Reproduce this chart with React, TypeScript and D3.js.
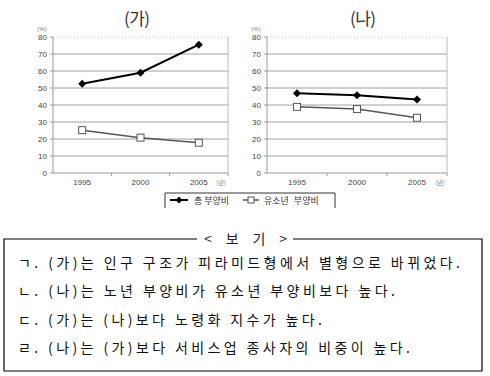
import React from "react";
import * as d3 from "d3";

const years = ["1995", "2000", "2005"];
const totalA = [52.5, 59, 75.5];
const youthA = [25.2, 20.8, 17.8];
const totalB = [46.9, 45.7, 43.2];
const youthB = [38.9, 37.6, 32.5];
const yTicks = [0, 10, 20, 30, 40, 50, 60, 70, 80];
const seriesNames = ["총 부양비", "유소년 부양비"];
const titles = ["(가)", "(나)"];
const boxTitle = "< 보 기 >";
const statements = [
  "ㄱ. (가)는 인구 구조가 피라미드형에서 별형으로 바뀌었다.",
  "ㄴ. (나)는 노년 부양비가 유소년 부양비보다 높다.",
  "ㄷ. (가)는 (나)보다 노령화 지수가 높다.",
  "ㄹ. (나)는 (가)보다 서비스업 종사자의 비중이 높다.",
];
const statementWidths = [442, 377, 304, 392];

const KFONT = "'Noto Sans CJK KR', 'Noto Sans', sans-serif";
const AFONT = "'Liberation Sans', Arial, sans-serif";

function Diamond({ x, y, s = 4 }: { x: number; y: number; s?: number }) {
  return <path d={`M${x},${y - s}L${x + s},${y}L${x},${y + s}L${x - s},${y}Z`} fill="#000" />;
}
function Square({ x, y, s = 3.5 }: { x: number; y: number; s?: number }) {
  return <rect x={x - s} y={y - s} width={2 * s} height={2 * s} fill="#fff" stroke="#555" strokeWidth={1} />;
}

function Panel({ x0, x1, title, titleX, total, youth }: any) {
  const y = d3.scaleLinear().domain([0, 80]).range([173, 37]);
  const x = d3.scaleBand().domain(years).range([x0, x1]).padding(0);
  const cx = (d: string) => (x(d) as number) + x.bandwidth() / 2;
  const line = d3.line<number>().x((_, i) => cx(years[i])).y((v) => y(v));
  return (
    <g>
      <text x={titleX} y={17} textAnchor="middle" dominantBaseline="central" fontFamily={KFONT} fontSize={17} fill="#333" textLength={26} lengthAdjust="spacing">
        {title}
      </text>
      <text x={x0 - 11} y={29} textAnchor="middle" dominantBaseline="central" fontFamily={AFONT} fontSize={6} fill="#777">
        (%)
      </text>
      {yTicks.map((t) => (
        <g key={t}>
          {t > 0 && (
            <line x1={x0} x2={x1} y1={y(t)} y2={y(t)} stroke={t === 80 ? "#ccc" : "#a0a0a0"} strokeWidth={1} strokeDasharray={t === 80 ? "1,2" : undefined} />
          )}
          <line x1={x0 - 3} x2={x0} y1={y(t)} y2={y(t)} stroke="#999" />
          <text x={x0 - 6} y={y(t)} textAnchor="end" dominantBaseline="central" fontFamily={AFONT} fontSize={8} fill="#444">
            {t}
          </text>
        </g>
      ))}
      <line x1={x0} x2={x0} y1={y(80)} y2={y(0)} stroke="#999" />
      <line x1={x1} x2={x1} y1={y(80)} y2={y(0)} stroke="#bbb" />
      <line x1={x0} x2={x1} y1={y(0)} y2={y(0)} stroke="#999" />
      {years.map((d) => (
        <line key={"t" + d} x1={(x(d) as number) + x.bandwidth()} x2={(x(d) as number) + x.bandwidth()} y1={y(0)} y2={y(0) + 3} stroke="#999" />
      ))}
      {years.map((d) => (
        <text key={d} x={cx(d)} y={182} textAnchor="middle" dominantBaseline="central" fontFamily={AFONT} fontSize={8} fill="#444">
          {d}
        </text>
      ))}
      <text x={x1 - 7} y={182} textAnchor="middle" dominantBaseline="central" fontFamily={KFONT} fontSize={6} fill="#777">
        (년)
      </text>
      <path d={line(youth) as string} fill="none" stroke="#555" strokeWidth={1.5} />
      {youth.map((v: number, i: number) => (
        <Square key={"s" + i} x={cx(years[i])} y={y(v)} />
      ))}
      <path d={line(total) as string} fill="none" stroke="#000" strokeWidth={2} />
      {total.map((v: number, i: number) => (
        <Diamond key={"d" + i} x={cx(years[i])} y={y(v)} />
      ))}
    </g>
  );
}

export default function App() {
  return (
    <svg width={490} height={376} style={{ position: "absolute", left: 0, top: 0, background: "#fff" }}>
      <rect width={490} height={376} fill="#fff" />
      <Panel x0={53} x1={228} title={titles[0]} titleX={137} total={totalA} youth={youthA} />
      <Panel x0={267} x1={447} title={titles[1]} titleX={363} total={totalB} youth={youthB} />
      {/* legend */}
      <path d="M165,208V193H335V208" fill="none" stroke="#333" strokeWidth={1} />
      <line x1={170} x2={188} y1={200} y2={200} stroke="#000" strokeWidth={2} />
      <Diamond x={179} y={200} s={3.5} />
      <text x={194} y={200} dominantBaseline="central" fontFamily={KFONT} fontSize={9} fill="#333">
        {seriesNames[0]}
      </text>
      <line x1={243} x2={259} y1={200} y2={200} stroke="#555" strokeWidth={1.5} />
      <Square x={251} y={200} s={3} />
      <text x={264} y={200} dominantBaseline="central" fontFamily={KFONT} fontSize={9} fill="#333" wordSpacing={3}>
        {seriesNames[1]}
      </text>
      {/* box */}
      <path d="M197,239H4V371H482V239H293" fill="none" stroke="#000" strokeWidth={1.2} />
      <text x={204} y={238} dominantBaseline="central" fontFamily={KFONT} fontSize={14} fill="#222" textLength={83} lengthAdjust="spacing">
        {boxTitle}
      </text>
      {statements.map((s, i) => (
        <text
          key={i}
          x={18}
          y={262 + i * 28.3}
          dominantBaseline="central"
          fontFamily={KFONT}
          fontSize={14}
          fill="#111"
          textLength={statementWidths[i]}
          lengthAdjust="spacing"
        >
          {s}
        </text>
      ))}
    </svg>
  );
}
